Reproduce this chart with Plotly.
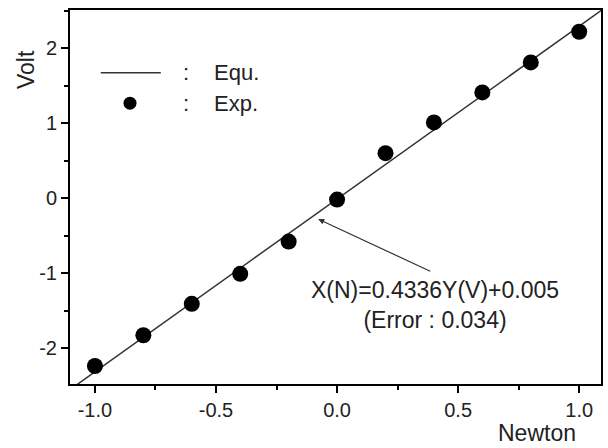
import plotly.graph_objects as go

# Experimental data (Newton vs Volt)
exp_newton = [-1.0, -0.8, -0.6, -0.4, -0.2, 0.0, 0.2, 0.4, 0.6, 0.8, 1.0]
exp_volt = [-2.24, -1.83, -1.41, -1.01, -0.58, -0.02, 0.60, 1.01, 1.41, 1.81, 2.22]

# Fitted equation line endpoints: X(N)=0.4336Y(V)+0.005
equ_newton = [-1.1, 1.1]
equ_volt = [-2.548, 2.525]

x_ticks = [-1.0, -0.5, 0.0, 0.5, 1.0]
x_ticklabels = ["-1.0", "-0.5", "0.0", "0.5", "1.0"]
y_ticks = [-2, -1, 0, 1, 2]
y_ticklabels = ["-2", "-1", "0", "1", "2"]

eq_text = "X(N)=0.4336Y(V)+0.005<br>(Error : 0.034)"
arrow_head = (-0.078, -0.28)
arrow_tail = (0.391, -0.985)
text_pos = (0.405, -1.42)

FONT = "Liberation Sans, Arial, sans-serif"

fig = go.Figure()
fig.add_trace(go.Scatter(x=equ_newton, y=equ_volt, mode="lines",
                         line=dict(color="#333333", width=1.5),
                         name="Equ.", showlegend=False))
fig.add_trace(go.Scatter(x=exp_newton, y=exp_volt, mode="markers",
                         marker=dict(color="black", size=16),
                         name="Exp.", showlegend=False))

axis_common = dict(showgrid=False, zeroline=False, showline=True, linecolor="black",
                   linewidth=2, mirror=True, ticks="outside", ticklen=7, tickwidth=2,
                   tickcolor="black", tickfont=dict(family=FONT, size=20, color="#222222"))

fig.update_xaxes(range=[-1.103, 1.09], tickvals=x_ticks, ticktext=x_ticklabels,
                 minor=dict(dtick=0.25, tick0=0, ticks="outside", ticklen=4, tickwidth=2,
                            tickcolor="black"),
                 **axis_common)
fig.update_yaxes(range=[-2.48, 2.51], tickvals=y_ticks, ticktext=y_ticklabels,
                 minor=dict(dtick=0.5, tick0=0, ticks="outside", ticklen=4, tickwidth=2,
                            tickcolor="black"),
                 **axis_common)

# Manual legend
fig.add_shape(type="line", xref="paper", yref="paper", x0=0.058, x1=0.171, y0=0.832, y1=0.832,
              line=dict(color="#333333", width=1.5))
fig.add_shape(type="circle", xref="paper", yref="paper", xsizemode="pixel", ysizemode="pixel",
              xanchor=0.113, yanchor=0.751, x0=-6.5, x1=6.5, y0=-6.5, y1=6.5,
              fillcolor="black", line=dict(color="black", width=0))
legend_font = dict(family=FONT, size=22, color="#222222")
for yy, label in [(0.832, "Equ."), (0.751, "Exp.")]:
    fig.add_annotation(xref="paper", yref="paper", x=0.218, y=yy, text=":", showarrow=False,
                       xanchor="center", yanchor="middle", font=legend_font)
    fig.add_annotation(xref="paper", yref="paper", x=0.268, y=yy, text=label, showarrow=False,
                       xanchor="left", yanchor="middle", font=legend_font)

# Equation annotation with arrow
fig.add_annotation(x=arrow_head[0], y=arrow_head[1], ax=arrow_tail[0], ay=arrow_tail[1],
                   xref="x", yref="y", axref="x", ayref="y", text="", showarrow=True,
                   arrowhead=2, arrowsize=1, arrowwidth=1.2, arrowcolor="#333333")
fig.add_annotation(x=text_pos[0], y=text_pos[1], xref="x", yref="y", text=eq_text,
                   showarrow=False, xanchor="center", yanchor="middle", align="center",
                   font=dict(family=FONT, size=23, color="#222222"))

# Axis titles
fig.add_annotation(xref="paper", yref="paper", x=0.88, y=-0.131, text="Newton", showarrow=False,
                   xanchor="center", yanchor="middle", font=dict(family=FONT, size=23, color="#222222"))
fig.add_annotation(xref="paper", yref="paper", x=-0.083, y=0.842, text="Volt", showarrow=False,
                   textangle=-90, xanchor="center", yanchor="middle",
                   font=dict(family=FONT, size=23, color="#222222"))

fig.update_layout(width=608, height=448, margin=dict(l=70, r=5, t=10, b=64),
                  plot_bgcolor="white", paper_bgcolor="white", showlegend=False)

fig.write_html("out.html")
